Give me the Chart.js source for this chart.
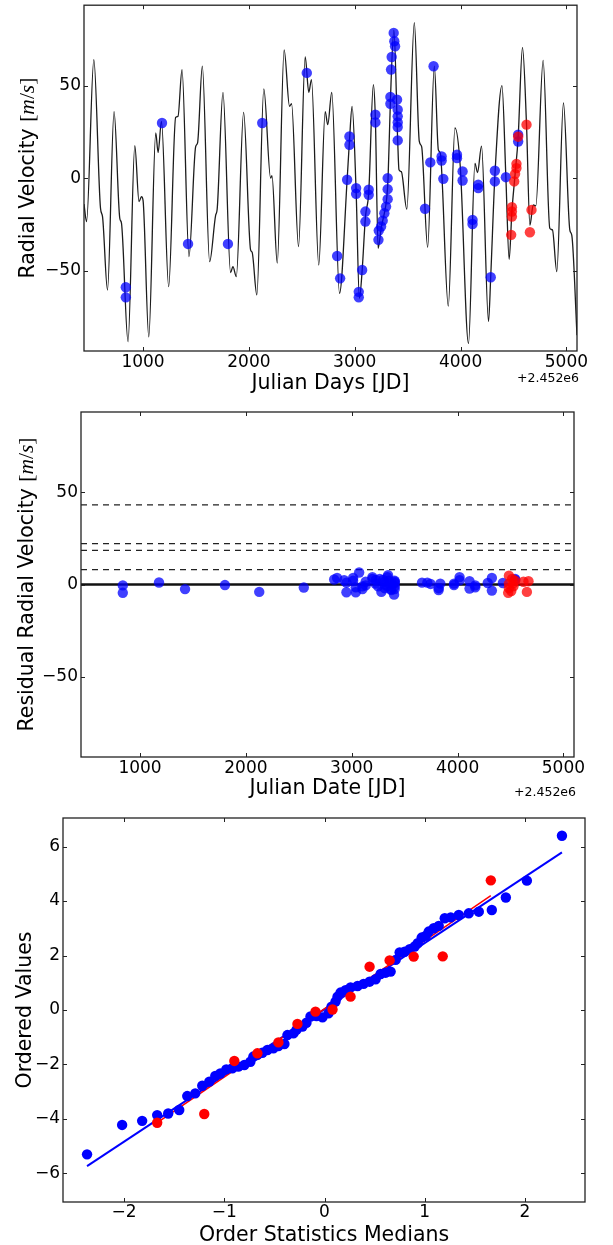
<!DOCTYPE html>
<html>
<head>
<meta charset="utf-8">
<script src="https://cdn.jsdelivr.net/npm/chart.js@4.4.0/dist/chart.umd.min.js"></script>
<style>
  html, body { margin: 0; padding: 0; background: #fff; }
  #wrap { position: relative; width: 613px; height: 1245px; overflow: hidden; }
  canvas { position: absolute; left: 0; }
</style>
</head>
<body>
<div id="wrap">
  <canvas id="rv" width="613" height="400" style="top:0px"></canvas>
  <canvas id="res" width="613" height="405" style="top:400px"></canvas>
  <canvas id="qq" width="613" height="440" style="top:805px"></canvas>
</div>
<script>
/* global Chart */
'use strict';

// ---- data ----

// axis ranges and ticks
var JD_RANGE = [442, 5100];
var RV_RANGE = [-93.5, 93.5];
var QQ_X_RANGE = [-2.61, 2.6];
var QQ_Y_RANGE = [-7.05, 7.05];
var JD_TICKS = [1000, 2000, 3000, 4000, 5000];
var RV_TICKS = [-50, 0, 50];
var QQ_X_TICKS = [-2, -1, 0, 1, 2];
var QQ_Y_TICKS = [-6, -4, -2, 0, 2, 4, 6];

// orbital model curve (JD - 2452000, m/s)
var MODEL_JD = [442, 466, 535, 598, 617, 664, 726, 780, 796, 858,
  922, 962, 985, 1000, 1054, 1120, 1142, 1174, 1242, 1308,
  1330, 1368, 1434, 1497, 1515, 1560, 1629, 1686, 1700, 1755,
  1827, 1849, 1881, 1950, 2016, 2030, 2075, 2141, 2205, 2218,
  2268, 2333, 2384, 2403, 2469, 2532, 2566, 2591, 2660, 2721,
  2745, 2783, 2856, 2928, 2950, 2975, 3013, 3044, 3070, 3101,
  3132, 3176, 3195, 3221, 3250, 3280, 3300, 3315, 3337, 3370,
  3406, 3418, 3440, 3492, 3563, 3610, 3632, 3689, 3752, 3790,
  3808, 3884, 3947, 3997, 4075, 4136, 4160, 4198, 4264, 4285,
  4324, 4391, 4428, 4459, 4485, 4515, 4544, 4585, 4623, 4655,
  4686, 4711, 4780, 4843, 4868, 4909, 4972, 5032, 5051, 5100];
var MODEL_RV = [-14, -23.5, 64, -16.3, -20.8, -60.5, 36, -21.7, -24.4, -88.5,
  17.5, -12.7, -10, -12, -85.8, 24.4, 13.9, 30.7, -58.7, 32.8,
  33.4, 58.7, -42.5, 17, 19, 60.5, -45.2, -20, -17, 46.4,
  -51.1, -47.9, -53.3, 35.5, -38.8, -40, -63.2, 48.2, 0, 1.3,
  -46, 69.3, 38.8, 40.2, -37, 65.5, 46.4, 53.3, -47, 36,
  28.9, 46.4, -62.3, -1, 20, 38.8, -7, -65, -50, -21,
  -8, 50.5, 32, -38, -27, -19, -12, 0, 42, 80,
  20, 4.5, 3.5, -16.8, 84, 19.8, 17, -37.4, 60.5, 15.3,
  13.5, -69.2, 27.1, 6.3, -89.4, 8, 3, 17.3, -77.5, -53,
  1, 50, 0.5, -43.9, -18, 2, 22, 70.7, 29, -25.5,
  -14.5, -15, 63.7, -27.1, -28, -50.6, 40.6, -28, -31, -85];

// first instrument (blue): date, velocity, residual
var BLUE_JD = [837, 837, 1179, 1425, 1802, 2126, 2547, 2834, 2862, 2928,
  2950, 2950, 3013, 3013, 3038, 3038, 3070, 3101, 3101, 3132,
  3132, 3195, 3195, 3224, 3227, 3249, 3264, 3280, 3296, 3311,
  3311, 3311, 3337, 3337, 3343, 3349, 3368, 3374, 3381, 3400,
  3406, 3406, 3406, 3406, 3406, 3664, 3714, 3745, 3821, 3821,
  3837, 3966, 3966, 4019, 4019, 4113, 4113, 4167, 4167, 4285,
  4324, 4324, 4428, 4544, 4544];
var BLUE_RV = [-59, -64.5, 29.8, -35.6, -35.6, 29.8, 56.9, -42.1, -54.2, -0.9,
  18, 22.5, -5.4, -8.5, -61.5, -64.5, -49.7, -18.1, -23.5, -6.3,
  -9, 34.3, 30.1, -33.4, -28.4, -26.2, -23, -19, -15.4, -11.4,
  -6, 0, 43.9, 40.2, 58.7, 65.5, 78.5, 74, 71.3, 42.4,
  37, 33.4, 30.1, 27.6, 20.4, -16.6, 8.5, 60.5, 11.7, 9.5,
  -0.4, 12.6, 10.8, 3.6, -1.3, -22.6, -24.8, -3.6, -5.4, -53.6,
  4, -1.8, 0.5, 23.5, 19.8];
var BLUE_RES = [-0.5, -4.5, 1.1, -2.5, -0.3, -4, -1.6, 2.7, 3.5, 2.3,
  -4.2, 1, 3.5, 2, -1.5, -4.2, 6.5, -1, -2.5, -0.5,
  1.5, 4, 3, 0.5, 2.5, -1, 3, -4, 2.5, 0,
  -2, 1.5, 4, -1, 5, 2, -2.5, -3, 0.5, -5.5,
  1.5, -1, 0.8, -2.5, 2, 1, 1, 0.3, -2, -3,
  0.5, 0.5, -0.3, 2.3, 4, 1.8, -2.2, -0.5, -1.5, 0.8,
  3.5, -3.3, 0.8, 2.5, 3];

// second instrument (red)
var RED_JD = [4544, 4623, 4528, 4528, 4515, 4507, 4485, 4485, 4485, 4478, 4670, 4655];
var RED_RV = [22.4, 28.9, 7.7, 5.4, 2.3, -1.8, -15.7, -18.1, -20.8, -30.7, -17.2, -29.3];
var RED_RES = [2, 1.5, -1, 0.8, 3, -3.5, 4.8, 0.5, -2, -4.5, 1.8, -4];

// residual jitter levels (dashed)
var JITTER_LEVELS = [43.2, 22.2, 18.5, 8.1];

// probability plot
var QQ_BLUE_X = [-2.37, -2.02, -1.82, -1.67, -1.56, -1.45, -1.37, -1.29, -1.22, -1.15,
  -1.09, -1.04, -0.98, -0.92, -0.86, -0.80, -0.74, -0.71, -0.67, -0.62,
  -0.57, -0.51, -0.46, -0.40, -0.37, -0.31, -0.28, -0.22, -0.18, -0.14,
  -0.08, -0.02, 0.04, 0.07, 0.11, 0.13, 0.16, 0.21, 0.26, 0.33,
  0.39, 0.45, 0.51, 0.56, 0.61, 0.66, 0.71, 0.75, 0.80, 0.85,
  0.90, 0.93, 0.97, 1.01, 1.04, 1.09, 1.14, 1.20, 1.26, 1.34,
  1.44, 1.54, 1.67, 1.81, 2.02, 2.37];
var QQ_BLUE_Y = [-5.3, -4.22, -4.07, -3.86, -3.8, -3.67, -3.16, -3.06, -2.78, -2.63,
  -2.42, -2.33, -2.18, -2.14, -2.08, -2.02, -1.9, -1.71, -1.65, -1.57,
  -1.47, -1.41, -1.32, -1.25, -0.92, -0.86, -0.73, -0.61, -0.47, -0.24,
  -0.22, -0.27, -0.12, 0.12, 0.31, 0.49, 0.64, 0.73, 0.83, 0.88,
  0.96, 1.04, 1.13, 1.32, 1.37, 1.41, 1.84, 2.11, 2.14, 2.23,
  2.33, 2.45, 2.66, 2.72, 2.88, 3.0, 3.09, 3.37, 3.4, 3.49,
  3.55, 3.61, 3.67, 4.13, 4.75, 6.4];
var QQ_RED_X = [-1.67, -1.2, -0.9, -0.67, -0.46, -0.27, -0.09, 0.08, 0.26, 0.45, 0.65, 0.89, 1.18, 1.66];
var QQ_RED_Y = [-4.14, -3.82, -1.87, -1.59, -1.19, -0.51, -0.06, 0.02, 0.49, 1.59, 1.82, 1.96, 1.97, 4.76];
var FIT_BLUE_X = [-2.37, 2.37];
var FIT_BLUE_Y = [-5.73, 5.79];
var FIT_RED_X = [-1.68, 1.66];
var FIT_RED_Y = [-4.16, 4.2];

// ---- styling ----
var SANS = '"DejaVu Sans", sans-serif';
var SERIF = '"Liberation Serif", "DejaVu Serif", serif';
var TICK_SIZE = 17;
var TITLE_SIZE = 20.5;
var BLUE_A = 'rgba(0, 0, 255, 0.75)';
var RED_A = 'rgba(255, 0, 0, 0.75)';

function pairs(xs, ys) {
  return xs.map(function (x, i) { return { x: x, y: ys[i] }; });
}

function fmt(v) {
  return v < 0 ? '\u2212' + Math.abs(v) : String(v);
}

function unitParts(prefix) {
  var up = TITLE_SIZE + 1 + 'px ' + SERIF;
  var it = 'italic ' + (TITLE_SIZE + 1) + 'px ' + SERIF;
  return [
    { text: prefix, font: TITLE_SIZE + 'px ' + SANS },
    { text: '[', font: up },
    { text: 'm', font: it },
    { text: '/', font: up },
    { text: 's', font: it },
    { text: ']', font: up },
  ];
}

// Frame, inward ticks, tick labels, axis titles and offset text (matplotlib look).
function framePlugin(cfg) {
  return {
    id: 'frame',
    afterDatasetsDraw: function (chart) {
      var ctx = chart.ctx;
      var a = chart.chartArea;
      var sx = chart.scales.x;
      var sy = chart.scales.y;
      var len = 4;
      ctx.save();
      ctx.strokeStyle = '#222';
      ctx.lineWidth = 1;
      ctx.beginPath();
      sx.ticks.forEach(function (t) {
        var p = Math.round(sx.getPixelForValue(t.value)) + 0.5;
        ctx.moveTo(p, a.bottom); ctx.lineTo(p, a.bottom - len);
        ctx.moveTo(p, a.top); ctx.lineTo(p, a.top + len);
      });
      sy.ticks.forEach(function (t) {
        var p = Math.round(sy.getPixelForValue(t.value)) + 0.5;
        ctx.moveTo(a.left, p); ctx.lineTo(a.left + len, p);
        ctx.moveTo(a.right, p); ctx.lineTo(a.right - len, p);
      });
      ctx.stroke();
      ctx.lineWidth = 1.3;
      ctx.strokeRect(a.left, a.top, a.right - a.left, a.bottom - a.top);

      ctx.fillStyle = '#000';
      // tick labels
      ctx.font = TICK_SIZE + 'px ' + SANS;
      ctx.textBaseline = 'middle';
      ctx.textAlign = 'center';
      sx.ticks.forEach(function (t) {
        ctx.fillText(fmt(t.value), sx.getPixelForValue(t.value), a.bottom + cfg.xLabelDy);
      });
      ctx.textAlign = 'right';
      sy.ticks.forEach(function (t) {
        ctx.fillText(fmt(t.value), a.left - 3, sy.getPixelForValue(t.value));
      });
      // x title
      ctx.font = TITLE_SIZE + 'px ' + SANS;
      ctx.textAlign = 'center';
      ctx.fillText(cfg.xTitle, (a.left + a.right) / 2, a.bottom + cfg.xTitleDy);
      // offset text
      if (cfg.offset) {
        ctx.font = '12.5px ' + SANS;
        ctx.textAlign = 'right';
        ctx.fillText(cfg.offset, a.right + 2, a.bottom + cfg.offsetDy);
      }
      // y title, rotated, mixed fonts
      var parts = cfg.yTitle;
      ctx.translate(cfg.yTitleX, (a.top + a.bottom) / 2);
      ctx.rotate(-Math.PI / 2);
      ctx.textAlign = 'left';
      ctx.textBaseline = 'alphabetic';
      var widths = parts.map(function (p) { ctx.font = p.font; return ctx.measureText(p.text).width; });
      var total = widths.reduce(function (s, w) { return s + w; }, 0);
      var cx = -total / 2;
      parts.forEach(function (p, i) {
        ctx.font = p.font;
        ctx.fillText(p.text, cx, 0);
        cx += widths[i];
      });
      ctx.restore();
    },
  };
}

function axis(range, ticks, fit) {
  return {
    type: 'linear',
    min: range[0],
    max: range[1],
    afterBuildTicks: function (s) {
      s.ticks = ticks.map(function (v) { return { value: v }; });
    },
    afterFit: function (s) {
      fit(s);
      s.paddingTop = 0;
      s.paddingBottom = 0;
      s.paddingLeft = 0;
      s.paddingRight = 0;
    },
    grid: { display: false, drawTicks: false, tickLength: 0 },
    border: { display: false },
    ticks: { display: false },
  };
}

function makeChart(id, opt) {
  return new Chart(document.getElementById(id), {
    type: 'line',
    data: { datasets: opt.datasets },
    options: {
      responsive: false,
      animation: false,
      devicePixelRatio: 1,
      layout: { padding: opt.padding },
      plugins: { legend: { display: false }, tooltip: { enabled: false } },
      scales: {
        x: axis(opt.xRange, opt.xTicks, function (s) { s.height = opt.xHeight; }),
        y: axis(opt.yRange, opt.yTicks, function (s) { s.width = opt.yWidth; }),
      },
    },
    plugins: [framePlugin(opt.frame)],
  });
}

function dots(data, color, order) {
  return {
    data: data,
    showLine: false,
    pointRadius: 5.2,
    pointHoverRadius: 5.2,
    pointBackgroundColor: color,
    pointBorderWidth: 0,
    order: order,
  };
}

function hline(level, color, width, dash, order) {
  return {
    data: [{ x: JD_RANGE[0], y: level }, { x: JD_RANGE[1], y: level }],
    borderColor: color,
    borderWidth: width,
    borderDash: dash,
    pointRadius: 0,
    fill: false,
    order: order,
  };
}

function init() {
  // Panel 1: radial velocities with the model curve.
  makeChart('rv', {
    padding: { top: 5, right: 36, left: 0, bottom: 0 },
    xRange: JD_RANGE, yRange: RV_RANGE,
    xTicks: JD_TICKS, yTicks: RV_TICKS,
    xHeight: 49, yWidth: 84,
    datasets: [
      dots(pairs(RED_JD, RED_RV), RED_A, 0),
      dots(pairs(BLUE_JD, BLUE_RV), BLUE_A, 1),
      {
        data: pairs(MODEL_JD, MODEL_RV),
        borderColor: '#1c1c1c',
        borderWidth: 1.3,
        pointRadius: 0,
        cubicInterpolationMode: 'monotone',
        fill: false,
        order: 2,
      },
    ],
    frame: {
      xLabelDy: 12,
      xTitle: 'Julian Days [JD]', xTitleDy: 33,
      offset: '+2.452e6', offsetDy: 28,
      yTitle: unitParts('Radial Velocity '), yTitleX: 34,
    },
  });

  // Panel 2: residuals.
  var resSets = [
    dots(pairs(RED_JD, RED_RES), RED_A, 0),
    dots(pairs(BLUE_JD, BLUE_RES), BLUE_A, 1),
    hline(0, '#111', 2.5, [], 2),
  ];
  JITTER_LEVELS.forEach(function (lv, i) {
    resSets.push(hline(lv, '#222', 1.2, [6, 5], 3 + i));
  });
  makeChart('res', {
    padding: { top: 12, right: 39, left: 0, bottom: 0 },
    xRange: JD_RANGE, yRange: RV_RANGE,
    xTicks: JD_TICKS, yTicks: RV_TICKS,
    xHeight: 48, yWidth: 81,
    datasets: resSets,
    frame: {
      xLabelDy: 12,
      xTitle: 'Julian Date [JD]', xTitleDy: 32,
      offset: '+2.452e6', offsetDy: 36,
      yTitle: unitParts('Residual Radial Velocity '), yTitleX: 33,
    },
  });

  // Panel 3: probability plot of residuals.
  makeChart('qq', {
    padding: { top: 13, right: 28, left: 0, bottom: 0 },
    xRange: QQ_X_RANGE, yRange: QQ_Y_RANGE,
    xTicks: QQ_X_TICKS, yTicks: QQ_Y_TICKS,
    xHeight: 43, yWidth: 63,
    datasets: [
      dots(pairs(QQ_RED_X, QQ_RED_Y), '#ff0000', 0),
      dots(pairs(QQ_BLUE_X, QQ_BLUE_Y), '#0000ff', 1),
      { data: pairs(FIT_RED_X, FIT_RED_Y), borderColor: '#ff0000', borderWidth: 1.5, pointRadius: 0, order: 2 },
      { data: pairs(FIT_BLUE_X, FIT_BLUE_Y), borderColor: '#0000ff', borderWidth: 2, pointRadius: 0, order: 3 },
    ],
    frame: {
      xLabelDy: 11,
      xTitle: 'Order Statistics Medians', xTitleDy: 34,
      offset: null, offsetDy: 0,
      yTitle: [{ text: 'Ordered Values', font: TITLE_SIZE + 'px ' + SANS }], yTitleX: 31,
    },
  });
}

init();
</script>
</body>
</html>
